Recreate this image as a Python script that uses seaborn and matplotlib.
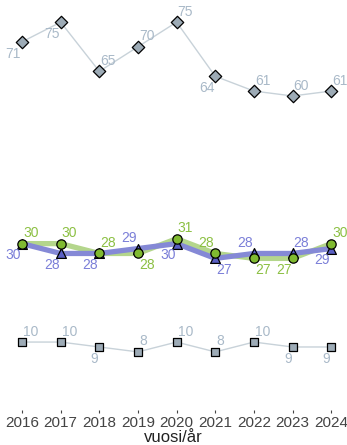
import pandas as pd
import numpy as np
import seaborn as sns
import matplotlib.pyplot as plt

years = [2016, 2017, 2018, 2019, 2020, 2021, 2022, 2023, 2024]
top_vals = [71, 75, 65, 70, 75, 64, 61, 60, 61]
green_vals = [30, 30, 28, 28, 31, 28, 27, 27, 30]
blue_vals = [30, 28, 28, 29, 30, 27, 28, 28, 29]
bottom_vals = [10, 10, 9, 8, 10, 8, 10, 9, 9]

# label placement per point: ar = above right, bl = below left, etc.
top_pos = ["bl", "bl", "ar", "ar", "ar", "bl", "ar", "ar", "ar"]
green_pos = ["ar", "ar", "ar", "br", "ar", "al", "br", "bl", "ar"]
blue_pos = ["bl", "bl", "bl", "al", "bl", "br", "al", "ar", "bl"]
bottom_pos = ["ar", "ar", "bl", "ar", "ar", "ar", "ar", "bl", "bl"]

sns.set_style("white")
plt.rcParams['font.family'] = ['Liberation Sans', 'DejaVu Sans']

fig = plt.figure(figsize=(3.47, 4.45), dpi=100)
ax = fig.add_axes([0.0, 0.0787, 1.0, 0.9213])


def draw(vals, line_col, line_w):
    df = pd.DataFrame({"year": years, "value": vals})
    sns.lineplot(data=df, x="year", y="value", color=line_col, linewidth=line_w, ax=ax)
    return df


def points(df, marker, face, size):
    sns.scatterplot(data=df, x="year", y="value", marker=marker, color=face,
                    edgecolor="black", linewidth=0.9, s=size, ax=ax, zorder=5)


def labels(vals, pos, col):
    for x, v, p in zip(years, vals, pos):
        dx = 0.7 if p[1] == "r" else -0.7
        dy = 2.5 if p[0] == "a" else -3.5
        ax.annotate(str(v), (x, v), xytext=(dx, dy), textcoords="offset points",
                    ha="left" if p[1] == "r" else "right",
                    va="bottom" if p[0] == "a" else "top",
                    color=col, fontsize=10, zorder=6)


grey_line = "#c8d2d9"
grey_face = "#9dabb6"
grey_text = "#a9b9c8"

df_top = draw(top_vals, grey_line, 1.0)
df_green = draw(green_vals, "#b4d68c", 3.8)
df_blue = draw(blue_vals, "#8589d6", 3.8)
df_bottom = draw(bottom_vals, grey_line, 1.0)

points(df_top, "D", grey_face, 40)
points(df_blue, "^", "#5a5fc4", 50)
points(df_green, "o", "#80ba30", 45)
points(df_bottom, "s", grey_face, 34)

labels(top_vals, top_pos, grey_text)
labels(green_vals, green_pos, "#8cc043")
labels(blue_vals, blue_pos, "#7b7fd8")
labels(bottom_vals, bottom_pos, grey_text)

ax.set_xlim(2015.43, 2024.41)
ax.set_ylim(-3.8, 79.5)
ax.set_xticks(years)
ax.set_xticklabels([str(y) for y in years], color="#444444", fontsize=11)
ax.set_yticks([])
ax.set_ylabel("")
ax.set_xlabel("vuosi/år", fontsize=12, color="#222222", labelpad=0)
ax.tick_params(axis="x", length=2.5, width=0.8, color="#444444", pad=1.5, direction="out", bottom=True)
sns.despine(ax=ax, left=True, bottom=True)

fig.savefig("out.png", dpi=100)
